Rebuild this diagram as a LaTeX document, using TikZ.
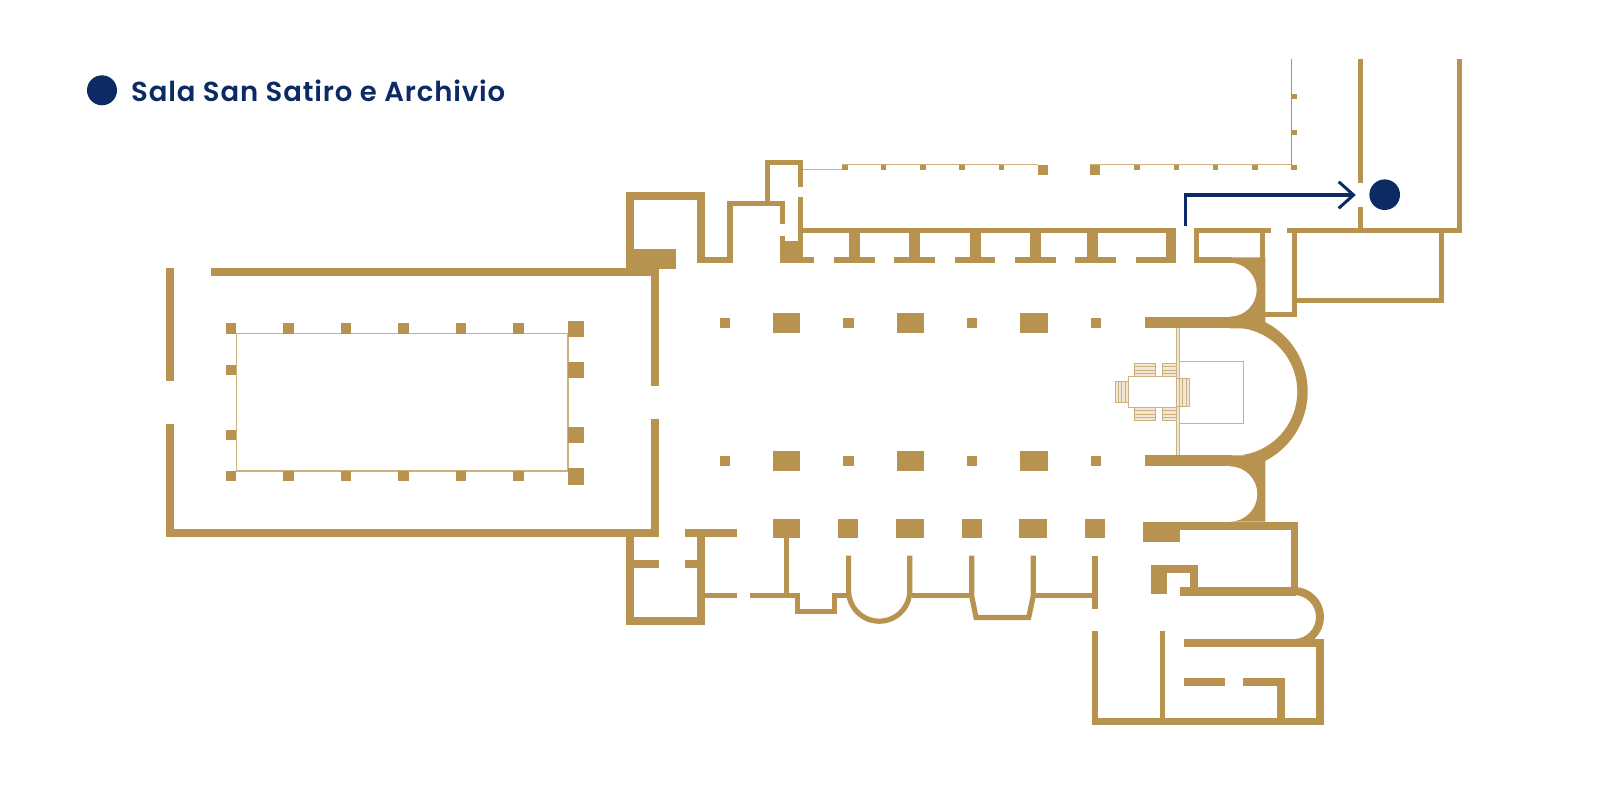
\documentclass[tikz,border=0pt]{standalone}
\usepackage{fontspec}
\newfontfamily\legendfont[LetterSpace=3.2]{Poppins SemiBold}
\definecolor{gold}{HTML}{B8924F}
\definecolor{goldline}{HTML}{CDB07C}
\definecolor{goldpale}{HTML}{F0E7D6}
\definecolor{navy}{HTML}{0C2A64}
\tikzset{
  wall/.style={fill=gold,draw=none},
  arcwall/.style={draw=gold,line join=miter},
  thinline/.style={draw=goldline,line width=1.2pt},
  hairline/.style={draw=goldline,line width=1pt},
  stairs/.style={draw=goldline,line width=1pt,fill=goldpale},
  route/.style={draw=navy,line width=3.4pt,line join=miter},
  marker/.style={fill=navy,draw=none}
}
\newcommand\WR[4]{\fill[wall] (#1,#2) rectangle (#3,#4);}
\begin{document}
\begin{tikzpicture}[x=1pt,y=1pt,yscale=-1]
\useasboundingbox (0,0) rectangle (1622,792);
\fill[white] (0,0) rectangle (1622,792);
% legend
\fill[marker] (102,90.3) circle (15);
\node[anchor=base west,inner sep=0pt,text=navy] (legend) at (131,101) {\legendfont\fontsize{27.5}{30}\selectfont Sala San Satiro e Archivio};
% cloister
\WR{166}{268}{174.3}{381.3}
\WR{166}{424}{174.3}{536.7}
\WR{211}{268}{651}{276}
\WR{166}{528.7}{659}{536.7}
\WR{651}{268}{659}{386}
\WR{651}{419}{659}{536.7}
\draw[thinline] (236.6,333.7) rectangle (568,471);
\foreach \x in {226,283.3,341,398.3,456,513.3}{
  \WR{\x}{323.3}{\x+10.4}{333.7}
  \WR{\x}{471}{\x+10.4}{481.3}
}
\WR{226}{364.7}{236.3}{375}
\WR{226}{430}{236.3}{440.3}
\foreach \y in {320.7,361.7,427,468.3}{\WR{568}{\y}{584.3}{\y+16.3}}
% north-west towers
\WR{626.3}{192}{705}{200}
\WR{626.3}{192}{634.3}{269}
\WR{626.3}{249}{675.7}{269}
\WR{697}{192}{705}{263}
\WR{697}{257.3}{732.7}{263}
\WR{727}{200.7}{732.7}{263}
\WR{727}{200.7}{785}{205.7}
\WR{780}{200.7}{785}{224}
\WR{764.7}{159.7}{770}{205}
\WR{764.7}{159.7}{803.3}{164.7}
\WR{798.3}{159.7}{803.3}{186.7}
\WR{798.3}{196.7}{803.3}{262}
\WR{780}{241}{803.3}{263}
\WR{780}{236}{785}{241}
\WR{780}{257.3}{814}{263}
% north aisle
\WR{798.3}{227.7}{1176.3}{233}
\foreach \s/\a/\b in {848.7/834/874.7,909.3/894.3/935,969.7/955/995.3,1030/1015/1055.7,1087.3/1075.3/1115.7}{
  \WR{\s}{227.7}{\s+11}{262.7}
  \WR{\a}{257.3}{\b}{262.7}
}
\WR{1165.7}{227.7}{1176.3}{262.7}
\WR{1136}{257.3}{1176.3}{262.7}
% north passage
\draw[thinline] (803,169.4) -- (842.3,169.4);
\draw[thinline] (842.3,164.8) -- (1038,164.8);
\draw[thinline] (1089.7,164.8) -- (1292,164.8);
\foreach \x in {842.3,881,920.3,959.3,998.7,1134.3,1173.7,1213,1252.3,1291.4}{\WR{\x}{164.5}{\x+5.2}{170.2}}
\WR{1038}{164.7}{1048.3}{175}
\WR{1089.7}{164.7}{1100}{175}
\fill[wall] (1291,58.7) rectangle (1292.2,166);
\WR{1291.3}{94}{1296.7}{99}
\WR{1291.3}{129.7}{1296.7}{134.7}
% north-east rooms
\WR{1357.5}{58.7}{1362.7}{182.7}
\WR{1357.5}{207}{1362.7}{230}
\WR{1456.7}{58.7}{1461.7}{232.7}
\WR{1193.7}{227.7}{1271}{233}
\WR{1286.7}{227.7}{1461.7}{232.8}
\WR{1193.7}{227.7}{1199}{262.7}
\WR{1193.7}{257.3}{1232}{262.7}
\WR{1260.3}{227.7}{1265.3}{262.7}
\WR{1291.7}{227.7}{1296.7}{317.3}
\WR{1265}{312.3}{1296.7}{317.3}
\WR{1296}{298.3}{1444}{303.2}
\WR{1439.3}{227.7}{1444}{303.2}
% apse and side niches
\fill[wall] (1229.7,262.7) arc (-90:90:27) -- (1229.7,328.3) -- (1265.3,328.3) -- (1265.3,257.3) -- (1229.7,257.3) -- cycle;
\fill[wall] (1229.7,466.3) arc (-90:90:27.7) -- (1265.3,521.7) -- (1265.3,455.3) -- (1229.7,455.3) -- cycle;
\WR{1145}{317.3}{1232}{328.3}
\WR{1145}{455.3}{1232}{466.3}
\fill[wall] (1229.9,391.5) ++(-70:77.8) arc (-70:70:77.8) -- (1243.3,454.8) arc (81:-81:64) -- cycle;
% nave columns
\foreach \y in {322.9,461}{
  \foreach \x in {719.7,843.3,967,1090.7}{\WR{\x}{\y-5.2}{\x+10.3}{\y+5.2}}
  \foreach \x in {773,896.7,1020.3}{\WR{\x}{\y-9.8}{\x+27.4}{\y+9.8}}
}
\foreach \x/\w in {773/27.4,838.3/20,896/27.6,961.7/20,1019.3/27.6,1085/19.7}{\WR{\x}{518.7}{\x+\w}{538.3}}
% south-west rooms
\WR{626.3}{528.7}{634.3}{625}
\WR{626.3}{616.7}{705.3}{625}
\WR{634}{560}{659}{568}
\WR{697.3}{528.7}{705.3}{625}
\WR{685}{528.7}{736.7}{536.7}
\WR{685}{560}{697.3}{568}
\WR{705}{593}{736.7}{598.3}
% south chapels
\WR{750.3}{593}{800.3}{598.3}
\WR{784.3}{538}{789.3}{593}
\WR{795.3}{593}{800.3}{614}
\WR{795.3}{608.7}{836.7}{614}
\WR{831.7}{593}{836.7}{614}
\WR{831.7}{593}{851}{598.3}
\draw[arcwall,line width=5.2pt] (848.6,555.7) -- (848.6,590.6) arc (180:0:30.6) -- (909.8,555.7);
\WR{912}{593}{972}{598.3}
\draw[arcwall,line width=5.2pt] (971.7,555.7) -- (971.7,596) -- (976,617.5) -- (1028.7,617.5) -- (1033.2,596) -- (1033.2,555.7);
\WR{1035}{593}{1093}{598.3}
\WR{1092.3}{555.7}{1097.7}{609.3}
% south-east block
\WR{1143.3}{522}{1298.3}{530}
\WR{1143.3}{522}{1180}{541.7}
\WR{1290.5}{522}{1298.3}{595}
\WR{1180}{587.3}{1296}{595.5}
\WR{1151.3}{565.3}{1167}{593.7}
\WR{1151.3}{565.3}{1198}{573.3}
\WR{1190}{565.3}{1198}{590}
\draw[arcwall,line width=8pt] (1294,591) arc (-90:90:26);
\WR{1183.7}{639}{1324.3}{646.7}
\WR{1316}{639}{1324.3}{725.3}
\WR{1092.3}{630.7}{1097.7}{725.3}
\WR{1092.3}{717.5}{1324.3}{725.3}
\WR{1159.7}{630.7}{1164.7}{720}
\WR{1183.7}{678.3}{1225.3}{686.3}
\WR{1243.3}{678.3}{1285.3}{686.3}
\WR{1277.3}{678.3}{1285.3}{720}
% sanctuary
\fill[goldpale] (1176.4,328.3) rectangle (1179.6,455.3);
\draw[hairline] (1176.4,328.3) -- (1176.4,455.3);
\draw[hairline] (1179.6,328.3) -- (1179.6,455.3);
\draw[hairline] (1179.6,361.5) rectangle (1243.6,423);
\foreach \a/\b in {1134.7/1155,1162.7/1176.3}{
  \foreach \c/\d in {363.3/376.7,407.3/420.7}{
    \draw[stairs] (\a,\c) rectangle (\b,\d);
    \foreach \k in {0.25,0.5,0.75}{\draw[hairline] (\a,\c+\k*13.4) -- (\b,\c+\k*13.4);}
  }
}
\draw[stairs] (1115,381.7) rectangle (1128.3,402);
\foreach \k in {3.3,6.6,10}{\draw[hairline] (1115+\k,381.7) -- (1115+\k,402);}
\draw[stairs] (1176.3,378) rectangle (1189.7,406.7);
\foreach \k in {3.3,6.6,10}{\draw[hairline] (1176.3+\k,378) -- (1176.3+\k,406.7);}
\draw[hairline,fill=white] (1128.3,376.7) rectangle (1176.3,407.3);
% route and destination
\coordinate (routestart) at (1185.2,225.7);
\coordinate (routecorner) at (1185.2,195);
\coordinate (routeend) at (1353,195);
\draw[route] (routestart) -- (routecorner) -- (routeend);
\draw[route,line width=3pt] (1338.7,181.7) -- (1353.5,195) -- (1338.7,208.3);
\fill[marker] (1384.7,194.7) circle (15.3);
\end{tikzpicture}
\end{document}
